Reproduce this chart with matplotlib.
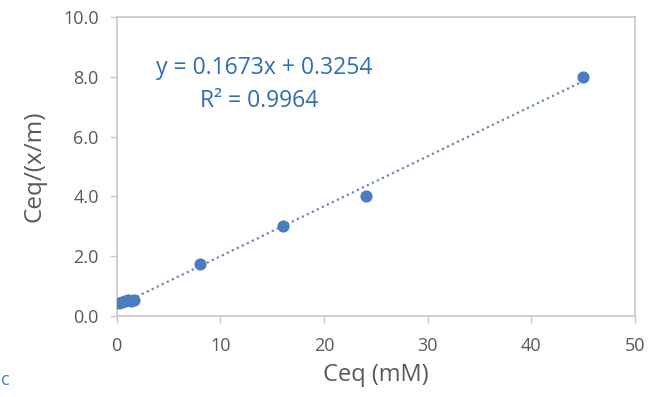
import matplotlib.pyplot as plt

ceq = [0.2, 0.5, 0.8, 1.1, 1.4, 1.7, 8.0, 16.0, 24.0, 45.0]
ceq_xm = [0.45, 0.48, 0.50, 0.52, 0.49, 0.52, 1.75, 3.02, 4.0, 8.0]
slope = 0.1673
intercept = 0.3254
x_ticks = [0, 10, 20, 30, 40, 50]
y_ticks = [0.0, 2.0, 4.0, 6.0, 8.0, 10.0]

plt.rcParams['font.family'] = ['Open Sans', 'DejaVu Sans']

fig = plt.figure(figsize=(6.52, 3.97), dpi=100)
ax = fig.add_axes([0.179, 0.204, 0.795, 0.753])

fit_x = [0, max(ceq)]
fit_y = [slope * v + intercept for v in fit_x]
ax.plot(fit_x, fit_y, linestyle=(0, (1, 1.5)), color='#6b86b8', linewidth=1.6, zorder=2)
ax.scatter(ceq, ceq_xm, s=60, color='#4a7cc0', zorder=3)

ax.set_xlim(0, 50)
ax.set_ylim(0, 10)
ax.set_xticks(x_ticks)
ax.set_yticks(y_ticks)
ax.set_yticklabels(['%.1f' % v for v in y_ticks])

for s in ax.spines.values():
    s.set_color('#c8c8c8')
    s.set_linewidth(1.2)
ax.tick_params(colors='#c8c8c8', labelcolor='#595959', labelsize=13, length=5, width=1)
ax.tick_params(axis='x', pad=10)
ax.tick_params(axis='y', pad=8)

ax.set_xlabel('Ceq (mM)', fontsize=17, color='#595959', labelpad=6)
ax.set_ylabel('Ceq/(x/m)', fontsize=17.5, color='#595959', labelpad=12)

ax.text(0.285, 0.81, 'y = 0.1673x + 0.3254', transform=ax.transAxes, ha='center',
        fontsize=16.5, color='#2f6db5')
ax.text(0.275, 0.70, 'R² = 0.9964', transform=ax.transAxes, ha='center',
        fontsize=16.5, color='#2f6db5')

fig.text(0.001, 0.03, 'c', fontsize=13, color='#4a7cc0')

fig.savefig('out.png', dpi=100)
